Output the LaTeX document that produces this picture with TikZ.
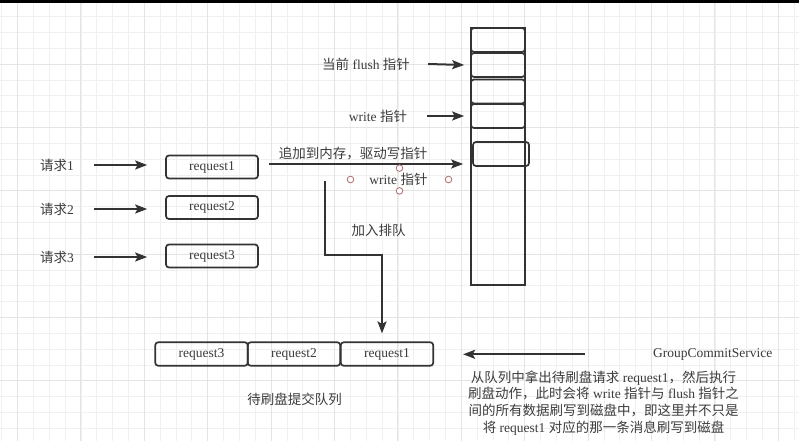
\documentclass[tikz,border=0pt]{standalone}
\usepackage{fontspec}
\setmainfont{Liberation Serif}
\newfontfamily\cjk{Noto Sans CJK SC}
\usetikzlibrary{arrows.meta}
\definecolor{ink}{HTML}{333333}
\definecolor{txt}{HTML}{3C3C3C}
\definecolor{gridminor}{HTML}{F0F0F0}
\definecolor{gridmajor}{HTML}{E4E4E4}
\definecolor{handle}{HTML}{B06A6A}
\begin{document}
\begin{tikzpicture}[x=1pt,y=-1pt,
  box/.style={draw=ink,line width=1.7pt,rounded corners=3pt,minimum width=92pt,minimum height=23pt,inner sep=0pt,text=txt,font=\fontsize{13.5}{16}\selectfont},
  cellbox/.style={draw=ink,line width=1.7pt,rounded corners=3pt,inner sep=0pt,minimum width=54pt,minimum height=24pt},
  arr/.style={draw=ink,line width=2pt,-{Stealth[length=12pt,width=9pt,inset=2.5pt]}},
  lbl/.style={text=txt,font=\fontsize{13.5}{16}\selectfont,inner sep=0pt},
  hdl/.style={draw=handle,line width=0.8pt,fill=white,circle,inner sep=0pt,minimum size=6.6pt},
]
\useasboundingbox (0,0) rectangle (799,441);
\fill[white] (0,0) rectangle (799,441);
% grid
\foreach \k in {0,...,50} {
  \pgfmathsetmacro\xx{1.7+15.85*\k}
  \draw[gridminor,line width=0.9pt] (\xx,0) -- (\xx,441);
}
\foreach \k in {0,...,27} {
  \pgfmathsetmacro\yy{0.9+15.83*\k}
  \draw[gridminor,line width=0.9pt] (0,\yy) -- (799,\yy);
}
\foreach \k in {1,5,...,49} {
  \pgfmathsetmacro\xx{1.7+15.85*\k}
  \draw[gridmajor,line width=1pt] (\xx,0) -- (\xx,441);
}
\foreach \k in {0,4,...,24} {
  \pgfmathsetmacro\yy{0.9+15.83*\k}
  \draw[gridmajor,line width=1pt] (0,\yy) -- (799,\yy);
}
\fill[black] (0,0) rectangle (799,3);

% memory column
\node[draw=ink,line width=1.7pt,minimum width=54pt,minimum height=257pt,inner sep=0pt] (mem) at (498,156.5) {};
\node[cellbox] (c1) at (498,40) {};
\node[cellbox] (c2) at (498,65) {};
\node[cellbox] (c3) at (498,91.5) {};
\node[cellbox] (c4) at (498,116) {};
\node[cellbox,minimum width=56pt] (c5) at (501,154) {};

% pointer labels
\node[lbl] (flushl) at (366,64) {{\cjk 当前} flush {\cjk 指针}};
\node[lbl] (writel) at (378,116) {write {\cjk 指针}};
\draw[arr] ([xshift=18pt]flushl.east) -- ([xshift=-6pt]c2.west);
\draw[arr] ([xshift=20pt]writel.east) -- ([xshift=-6pt]c4.west);

% requests
\node[box] (r1) at (212,167) {request1};
\node[box] (r2) at (212,207.5) {request2};
\node[box] (r3) at (212,256) {request3};
\node[lbl] (q1) at (57,165) {{\cjk 请求}1};
\node[lbl] (q2) at (57,209) {{\cjk 请求}2};
\node[lbl] (q3) at (57,257) {{\cjk 请求}3};
\draw[arr] ([xshift=20pt]q1.east) -- ([xshift=-18pt]r1.west |- q1.east);
\draw[arr] ([xshift=20pt]q2.east) -- ([xshift=-18pt]r2.west |- q2.east);
\draw[arr] ([xshift=20pt]q3.east) -- ([xshift=-18pt]r3.west |- q3.east);

% append arrow
\path ([yshift=3pt]r1.east) coordinate (a1s);
\draw[arr] ([xshift=10pt]a1s) -- ([xshift=-9pt]a1s -| c5.west);
\node[lbl] (appl) at (353,154) {{\cjk 追加到内存，驱动写指针}};

% write pointer label with selection handles
\node[lbl] (wl2) at (398.5,179.5) {write {\cjk 指针}};
\node[minimum width=97.6pt,minimum height=22.4pt,inner sep=0pt] (wsel) at (399.5,179.5) {};
\node[hdl] at (wsel.west) {};
\node[hdl] at (wsel.north) {};
\node[hdl] at (wsel.east) {};
\node[hdl] at (wsel.south) {};

% queue
\node[box,minimum width=92.5pt,minimum height=23.5pt] (qr3) at (201.5,354) {request3};
\node[box,minimum width=92.5pt,minimum height=23.5pt] (qr2) at (294,354) {request2};
\node[box,minimum width=92.5pt,minimum height=23.5pt] (qr1) at (387,354) {request1};
\node[lbl] (ql) at (294.5,399) {{\cjk 待刷盘提交队列}};

\coordinate (qs) at (325,181);
\coordinate (qbend) at (382,255);
\draw[arr,shorten >=8pt] (qs) |- (qbend) -- (qbend |- qr1.north);
\node[lbl] (joinl) at (378.5,230) {{\cjk 加入排队}};

% group commit
\node[lbl] (gcs) at (712.7,354.3) {GroupCommitService};
\draw[arr] ([xshift=-68pt]gcs.west) -- ([xshift=29pt]qr1.east |- gcs.west);
\node[lbl,align=center,font=\fontsize{13.5}{16.9}\selectfont] (desc) at (603.5,403) {%
{\cjk 从队列中拿出待刷盘请求} request1{\cjk ，然后执行}\\
{\cjk 刷盘动作，此时会将} write {\cjk 指针与} flush {\cjk 指针之}\\
{\cjk 间的所有数据刷写到磁盘中，即这里并不只是}\\
{\cjk 将} request1 {\cjk 对应的那一条消息刷写到磁盘}};
\end{tikzpicture}
\end{document}
